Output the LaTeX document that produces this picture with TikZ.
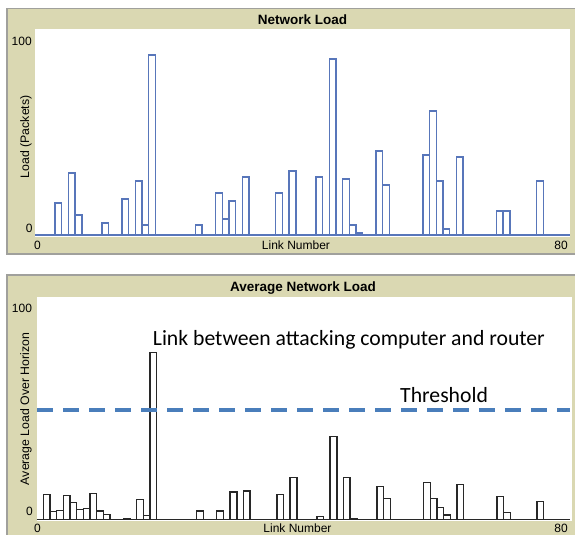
\documentclass[tikz,border=0pt]{standalone}
\usepackage{fontspec}
\setmainfont{Liberation Sans}
\newfontfamily\notefont{Carlito}
\usepackage{xcolor}
\usepackage{tikz}

\definecolor{panelTan}{RGB}{218,216,178}
\definecolor{panelEdge}{RGB}{160,160,156}
\definecolor{loadBlue}{RGB}{88,118,186}
\definecolor{threshBlue}{RGB}{74,126,187}
\definecolor{avgGray}{RGB}{40,40,40}

\begin{document}
\begin{tikzpicture}[x=1pt, y=-1pt,
		panel/.style={fill=panelTan},
		edge/.style={draw=panelEdge, line width=1.2pt},
		plotarea/.style={fill=white},
		title/.style={font=\bfseries\fontsize{13.5}{16}\selectfont, inner sep=0pt},
		tick/.style={font=\fontsize{12}{14}\selectfont, inner sep=0pt},
		axislabel/.style={font=\fontsize{12.3}{14}\selectfont, rotate=90, inner sep=0pt},
		bar/.style={line width=1.4pt, line join=miter},
		note/.style={font=\notefont\fontsize{21.7}{26}\selectfont, inner sep=0pt}
	]
		\useasboundingbox (0,0) rectangle (575,535);

		% Panels
		\fill[panel] (7,8.5) rectangle (575,254);
		\draw[edge] (575,8.5) -- (7,8.5) -- (7,254) -- (575,254);
		\fill[plotarea] (35,29) rectangle (570,237);

		\fill[panel] (7,275) rectangle (575,535);
		\draw[edge] (575,275) -- (7,275) -- (7,535);
		\fill[plotarea] (37,297) rectangle (572,521);

		% Network load bars
		\begin{scope}[shift={(35,235)}, x=6.6875pt, y=2pt]
			\draw[loadBlue, bar] (0,0) -- (80,0);
			\foreach \k/\v in {3/16, 5/31, 6/10, 10/6, 13/18, 15/27, 16/5, 17/90, 24/5, 27/21,
					28/8, 29/17, 31/29, 36/21, 38/32, 42/29, 44/88, 46/28, 47/5, 48/1, 51/42, 52/25,
					58/40, 59/62, 60/27, 61/3, 63/39, 69/12, 70/12, 75/27}
				\draw[loadBlue, bar] (\k,0) rectangle ++(1,\v);
		\end{scope}

		% Average load bars
		\begin{scope}[shift={(36.7,519.3)}, x=6.67pt, y=2.18pt]
			\draw[avgGray, bar] (0,0) -- (80,0);
			\foreach \k/\v in {1/11.5, 2/3.7, 3/4.1, 4/10.8, 5/7.6, 6/4.4, 7/4.9, 8/11.9, 9/3.9,
					10/2.3, 13/0.5, 15/9.2, 16/1.7, 17/76.4, 24/3.8, 27/3.8, 29/12.5, 31/13, 36/11.5,
					38/19.1, 42/1.2, 44/37.9, 46/19.1, 47/0.5, 51/15, 52/9.6, 58/16.8, 59/9.6, 60/5.3,
					61/2, 63/16.1, 69/10.4, 70/3.2, 75/8.1}
				\draw[avgGray, bar] (\k,0) rectangle ++(1,\v);
		\end{scope}

		% Threshold
		\coordinate (thrL) at (37,410);
		\coordinate (thrR) at (570,410);
		\draw[threshBlue, line width=4pt, dash pattern=on 16pt off 10pt] (thrL) -- (thrR);

		% Labels
		\node[title] (loadTitle) at (302.5,20) {Network Load};
		\node[axislabel] (loadYLabel) at (26,136.7) {Load (Packets)};
		\node[tick] (loadYMax) at (21.7,41.7) {100};
		\node[tick] (loadYMin) at (29.3,228.3) {0};
		\node[tick] (loadXMin) at (37.5,245) {0};
		\node[tick] (loadXLabel) at (296,245) {Link Number};
		\node[tick] (loadXMax) at (561,245) {80};

		\node[title] (avgTitle) at (303,287.7) {Average Network Load};
		\node[axislabel] (avgYLabel) at (26,409) {Average Load Over Horizon};
		\node[tick] (avgYMax) at (22,308.3) {100};
		\node[tick] (avgYMin) at (29.5,511.7) {0};
		\node[tick] (avgXMin) at (37.5,528) {0};
		\node[tick] (avgXLabel) at (297.5,528) {Link Number};
		\node[tick] (avgXMax) at (561,528) {80};

		\node[note, anchor=base west] (attackNote) at (152.7,345) {Link between attacking computer and router};
		\node[note, anchor=base west] (thrNote) at (400,402.3) {Threshold};
	\end{tikzpicture}
\end{document}
